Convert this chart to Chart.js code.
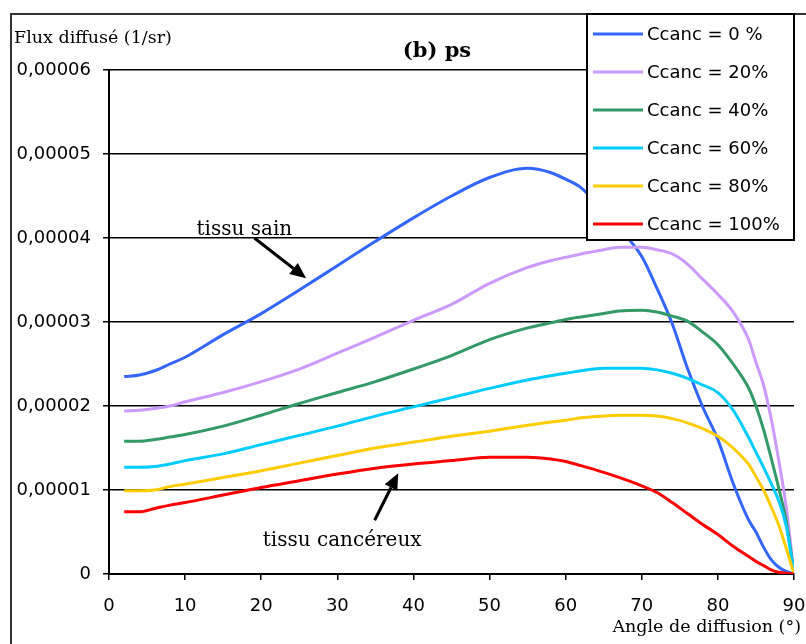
<!DOCTYPE html>
<html>
<head>
<meta charset="utf-8">
<script src="https://cdn.jsdelivr.net/npm/chart.js@4"></script>
<style>
  html, body { margin: 0; padding: 0; background: #fff; }
  #wrap { width: 806px; height: 644px; }
</style>
</head>
<body>
<div id="wrap"><canvas id="c" width="806" height="644"></canvas></div>
<script>
// ---- data (y values in units of 1e-5 1/sr) ----
const angles = [2,4,6,8,10,15,20,25,30,35,40,45,50,55,58,60,62,65,67,70,72,74,76,78,80,82,84,85,86,87,88,89,90];
const c0   = [2.35,2.37,2.42,2.50,2.58,2.85,3.10,3.38,3.67,3.96,4.24,4.50,4.72,4.83,4.78,4.70,4.60,4.32,4.12,3.78,3.40,2.98,2.45,1.99,1.60,1.08,0.65,0.50,0.32,0.17,0.08,0.03,0];
const c20  = [1.94,1.95,1.97,2.00,2.05,2.16,2.29,2.44,2.63,2.82,3.02,3.21,3.46,3.65,3.73,3.77,3.81,3.86,3.89,3.89,3.86,3.81,3.69,3.51,3.33,3.12,2.80,2.52,2.25,1.85,1.35,0.78,0];
const c40  = [1.58,1.58,1.60,1.63,1.66,1.76,1.89,2.03,2.16,2.29,2.44,2.60,2.79,2.93,2.99,3.03,3.06,3.10,3.13,3.14,3.12,3.07,3.01,2.88,2.73,2.50,2.22,2.00,1.72,1.38,1.02,0.62,0];
const c60  = [1.27,1.27,1.28,1.31,1.35,1.43,1.54,1.65,1.76,1.88,1.99,2.10,2.21,2.31,2.36,2.39,2.42,2.45,2.45,2.45,2.43,2.39,2.33,2.25,2.16,1.95,1.63,1.45,1.27,1.08,0.87,0.56,0];
const c80  = [0.99,0.99,1.00,1.04,1.07,1.15,1.23,1.32,1.41,1.50,1.57,1.64,1.70,1.77,1.81,1.83,1.86,1.88,1.89,1.89,1.88,1.85,1.80,1.73,1.64,1.50,1.31,1.16,1.00,0.80,0.58,0.30,0];
const c100 = [0.74,0.74,0.78,0.82,0.85,0.94,1.03,1.11,1.19,1.26,1.31,1.35,1.39,1.39,1.37,1.34,1.29,1.21,1.15,1.05,0.97,0.85,0.72,0.59,0.47,0.33,0.21,0.15,0.10,0.05,0.02,0.01,0];
const seriesLabels = ['Ccanc = 0 %','Ccanc = 20%','Ccanc = 40%','Ccanc = 60%','Ccanc = 80%','Ccanc = 100%'];
const seriesColors = ['#3366FF','#CC99FF','#339966','#00CCFF','#FFCC00','#FF0000'];
const xTickLabels = ['0','10','20','30','40','50','60','70','80','90'];
const yTickLabels = ['0','0,00001','0,00002','0,00003','0,00004','0,00005','0,00006'];
const chartTitle = '(b) ps';
const yTitle = 'Flux diffusé (1/sr)';
const xTitle = 'Angle de diffusion (°)';
const notes = [
  { text: 'tissu sain', x: 11.5, y: 4.04, from: [19.1, 4.00], to: [25.9, 3.52] },
  { text: 'tissu cancéreux', x: 20.2, y: 0.33, from: [34.9, 0.64], to: [38.0, 1.20] }
];

const allSeries = [c0, c20, c40, c60, c80, c100];
const datasets = allSeries.map((vals, i) => ({
  label: seriesLabels[i],
  data: angles.map((a, j) => ({ x: a, y: vals[j] })),
  borderColor: seriesColors[i],
  backgroundColor: seriesColors[i],
  borderWidth: 3,
  pointRadius: 0,
  cubicInterpolationMode: 'monotone',
  fill: false
}));
datasets.reverse();

const SANS = '"DejaVu Sans", sans-serif';
const SERIF = '"DejaVu Serif", serif';

function drawArrow(ctx, x1, y1, x2, y2) {
  const ang = Math.atan2(y2 - y1, x2 - x1);
  const hl = 16, hw = 7;
  const bx = x2 - hl * Math.cos(ang), by = y2 - hl * Math.sin(ang);
  ctx.save();
  ctx.strokeStyle = '#000';
  ctx.fillStyle = '#000';
  ctx.lineWidth = 3;
  ctx.beginPath();
  ctx.moveTo(x1, y1);
  ctx.lineTo(bx, by);
  ctx.stroke();
  ctx.beginPath();
  ctx.moveTo(x2, y2);
  ctx.lineTo(bx + hw * Math.sin(ang), by - hw * Math.cos(ang));
  ctx.lineTo(bx - hw * Math.sin(ang), by + hw * Math.cos(ang));
  ctx.closePath();
  ctx.fill();
  ctx.restore();
}

const decor = {
  id: 'decor',
  beforeDraw(chart) {
    const ctx = chart.ctx;
    ctx.save();
    ctx.fillStyle = '#fff';
    ctx.fillRect(0, 0, chart.width, chart.height);
    ctx.strokeStyle = '#333';
    ctx.lineWidth = 2;
    ctx.beginPath();
    ctx.moveTo(11, 700);
    ctx.lineTo(11, 14);
    ctx.lineTo(900, 14);
    ctx.stroke();
    ctx.restore();
  },
  afterDatasetsDraw(chart) {
    const ctx = chart.ctx;
    const xs = chart.scales.x, ys = chart.scales.y;
    ctx.save();
    const lx = 587, ly = 14, lw = 207, lh = 226;
    ctx.fillStyle = '#fff';
    ctx.fillRect(lx, ly, lw, lh);
    ctx.strokeStyle = '#000';
    ctx.lineWidth = 2;
    ctx.strokeRect(lx, ly, lw, lh);
    ctx.font = '18px ' + SANS;
    ctx.textBaseline = 'middle';
    ctx.textAlign = 'left';
    seriesLabels.forEach((lab, i) => {
      const cy = 34 + i * 38;
      ctx.strokeStyle = seriesColors[i];
      ctx.lineWidth = 3;
      ctx.beginPath();
      ctx.moveTo(593, cy);
      ctx.lineTo(643, cy);
      ctx.stroke();
      ctx.fillStyle = '#000';
      ctx.fillText(lab, 647, cy + 1);
    });
    ctx.fillStyle = '#000';
    ctx.textBaseline = 'alphabetic';
    ctx.font = 'bold 21px ' + SERIF;
    ctx.textAlign = 'center';
    ctx.fillText(chartTitle, 437, 57);
    ctx.font = '17.5px ' + SERIF;
    ctx.textAlign = 'left';
    ctx.fillText(yTitle, 14, 43);
    ctx.textAlign = 'right';
    ctx.fillText(xTitle, 801, 632);
    ctx.font = '20px ' + SERIF;
    ctx.textAlign = 'left';
    notes.forEach(n => {
      ctx.fillText(n.text, xs.getPixelForValue(n.x), ys.getPixelForValue(n.y));
      drawArrow(ctx, xs.getPixelForValue(n.from[0]), ys.getPixelForValue(n.from[1]),
                     xs.getPixelForValue(n.to[0]), ys.getPixelForValue(n.to[1]));
    });
    ctx.restore();
  }
};

new Chart(document.getElementById('c'), {
  type: 'line',
  data: { datasets },
  options: {
    responsive: false,
    animation: false,
    devicePixelRatio: 1,
    layout: { padding: { top: 70, right: 0, left: 0, bottom: 0 } },
    plugins: { legend: { display: false }, tooltip: { enabled: false }, title: { display: false } },
    scales: {
      x: {
        type: 'linear', min: 0, max: 90,
        afterFit(s) { s.height = 70; s.paddingRight = 12; s.paddingLeft = 0; },
        ticks: { stepSize: 10, color: '#000', font: { family: SANS, size: 18 }, padding: 16,
                 maxRotation: 0,
                 callback: (v, i) => xTickLabels[i] },
        grid: { drawOnChartArea: false, drawTicks: true, tickLength: 6, color: '#000', lineWidth: 1.5 },
        border: { display: true, color: '#000', width: 2 }
      },
      y: {
        min: 0, max: 6,
        afterFit(s) { s.width = 109; },
        ticks: { stepSize: 1, color: '#000', font: { family: SANS, size: 18 }, padding: 12,
                 callback: (v, i) => yTickLabels[i] },
        grid: { color: '#000', lineWidth: 1.5, tickLength: 6 },
        border: { display: true, color: '#000', width: 2 }
      }
    }
  },
  plugins: [decor]
});
</script>
</body>
</html>
